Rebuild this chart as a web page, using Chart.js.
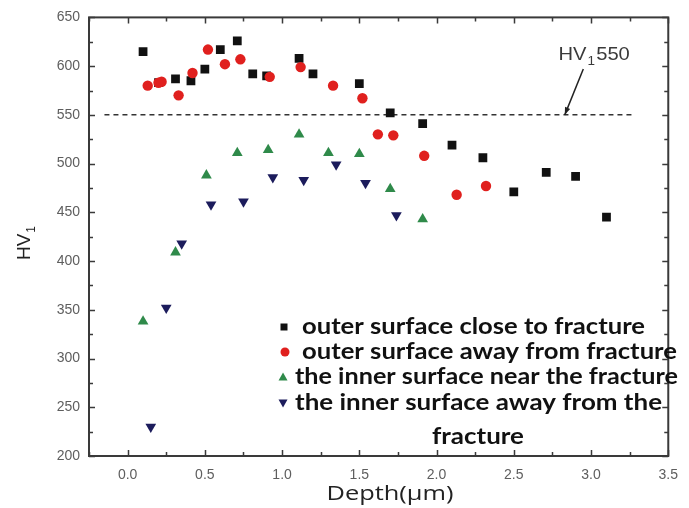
<!DOCTYPE html>
<html><head><meta charset="utf-8">
<script src="https://cdn.jsdelivr.net/npm/chart.js@4.4.1/dist/chart.umd.min.js"></script>
<style>html,body{margin:0;padding:0;background:#fff}</style>
</head><body>
<canvas id="c" width="689" height="508"></canvas>
<script>
// ---------- data ----------
const seriesLabels = [
  "outer surface close to fracture",
  "outer surface away from fracture",
  "the inner surface near the fracture",
  "the inner surface away from the\nfracture"
];
const closeX = [0.10, 0.20, 0.31, 0.41, 0.50, 0.60, 0.71, 0.81, 0.90, 1.11, 1.20, 1.50, 1.70, 1.91, 2.10, 2.30, 2.50, 2.71, 2.90, 3.10];
const closeY = [615, 583, 587, 585, 597, 617, 626, 592, 590, 608, 592, 582, 552, 541, 519, 506, 471, 491, 487, 445];
const awayX  = [0.13, 0.20, 0.22, 0.33, 0.42, 0.52, 0.63, 0.73, 0.92, 1.12, 1.33, 1.52, 1.62, 1.72, 1.92, 2.13, 2.32];
const awayY  = [580, 583, 584, 570, 593, 617, 602, 607, 589, 599, 580, 567, 530, 529, 508, 468, 477];
const innerNearX = [0.10, 0.31, 0.51, 0.71, 0.91, 1.11, 1.30, 1.50, 1.70, 1.91];
const innerNearY = [338, 409, 488, 511, 514, 530, 511, 510, 474, 443];
const innerAwayX = [0.15, 0.25, 0.35, 0.54, 0.75, 0.94, 1.14, 1.35, 1.54, 1.74];
const innerAwayY = [230, 352, 418, 458, 461, 486, 483, 499, 480, 447];
const thresholdX = [-0.15, 3.28];
const thresholdY = [550, 550];
const xTickValues = [0, 0.5, 1.0, 1.5, 2.0, 2.5, 3.0, 3.5];
const yTickValues = [200, 250, 300, 350, 400, 450, 500, 550, 600, 650];
const xRange = [-0.25, 3.5];
const yRange = [200, 650];
const annotationText = ["HV", "1", "550"];
const annotationPos = {textX: 3.02, textY: 611, tailX: 2.95, tailY: 597, tipX: 2.83, tipY: 550};
const xTitle = "Depth(\u03bcm)";
const yTitle = ["HV", "1"];

const pts = (xs, ys) => xs.map((x, i) => ({x: x, y: ys[i]}));

const colors = ['#111111', '#e0201e', '#2f8a4a', '#1c1c5c'];
const shapes = ['rect', 'circle', 'triangle', 'triangle'];
const rots = [0, 0, 0, 180];

const framePlugin = {
  id: 'frame',
  afterDatasetsDraw(chart) {
    const ctx = chart.ctx, a = chart.chartArea;
    const xs = chart.scales.x, ys = chart.scales.y;
    ctx.save();
    ctx.strokeStyle = '#3a3a3a';
    ctx.lineWidth = 2;
    ctx.strokeRect(a.left, a.top, a.right - a.left, a.bottom - a.top);
    ctx.lineWidth = 1.5;
    ctx.beginPath();
    for (let v = xRange[0]; v <= xRange[1] + 1e-9; v += 0.25) {
      const p = Math.round(xs.getPixelForValue(v)) + 0.5;
      const major = Math.abs(v * 2 - Math.round(v * 2)) < 1e-6;
      const L = major ? 6 : 4;
      ctx.moveTo(p, a.bottom); ctx.lineTo(p, a.bottom - L);
      ctx.moveTo(p, a.top); ctx.lineTo(p, a.top + L);
    }
    for (let v = yRange[0]; v <= yRange[1] + 1e-9; v += 25) {
      const p = Math.round(ys.getPixelForValue(v)) + 0.5;
      const major = v % 50 === 0;
      const L = major ? 6 : 4;
      ctx.moveTo(a.left, p); ctx.lineTo(a.left + L, p);
      ctx.moveTo(a.right, p); ctx.lineTo(a.right - L, p);
    }
    ctx.stroke();

    // annotation text + arrow
    ctx.fillStyle = '#3a3a3a';
    const big = '18px "Liberation Sans", Arial, sans-serif';
    const small = '12px "Liberation Sans", Arial, sans-serif';
    ctx.font = big;
    const w1 = ctx.measureText(annotationText[0]).width;
    ctx.font = small;
    const w2 = ctx.measureText(annotationText[1]).width;
    ctx.font = big;
    const w3 = ctx.measureText(annotationText[2]).width;
    const tw = w1 + w2 + w3 + 2;
    const tcx = xs.getPixelForValue(annotationPos.textX);
    const ty = ys.getPixelForValue(annotationPos.textY);
    ctx.save();
    ctx.translate(tcx, ty);
    ctx.scale(1.12, 1);
    ctx.textBaseline = 'middle';
    ctx.textAlign = 'left';
    const tx = -tw / 2;
    ctx.fillText(annotationText[0], tx, 0);
    ctx.font = small;
    ctx.fillText(annotationText[1], tx + w1 + 1, 6);
    ctx.font = big;
    ctx.fillText(annotationText[2], tx + w1 + w2 + 2, 0);
    ctx.restore();
    const x0 = xs.getPixelForValue(annotationPos.tailX), y0 = ys.getPixelForValue(annotationPos.tailY);
    const x1 = xs.getPixelForValue(annotationPos.tipX), y1 = ys.getPixelForValue(annotationPos.tipY);
    ctx.strokeStyle = '#222';
    ctx.lineWidth = 1.5;
    ctx.beginPath(); ctx.moveTo(x0, y0); ctx.lineTo(x1, y1); ctx.stroke();
    const ang = Math.atan2(y1 - y0, x1 - x0);
    ctx.fillStyle = '#222';
    ctx.beginPath();
    ctx.moveTo(x1, y1);
    ctx.lineTo(x1 - 8 * Math.cos(ang - 0.35), y1 - 8 * Math.sin(ang - 0.35));
    ctx.lineTo(x1 - 8 * Math.cos(ang + 0.35), y1 - 8 * Math.sin(ang + 0.35));
    ctx.closePath(); ctx.fill();

    // axis titles
    ctx.fillStyle = '#222';
    ctx.textAlign = 'center';
    ctx.textBaseline = 'middle';
    ctx.save();
    ctx.translate(390, 494);
    ctx.scale(1.27, 1);
    ctx.font = '20px "Open Sans", sans-serif';
    ctx.fillText(xTitle, 0, 0);
    ctx.restore();

    ctx.save();
    ctx.translate(25, 243);
    ctx.rotate(-Math.PI / 2);
    ctx.font = '19px "Liberation Sans", Arial, sans-serif';
    const hw = ctx.measureText(yTitle[0]).width;
    ctx.font = '12px "Liberation Sans", Arial, sans-serif';
    const sw = ctx.measureText(yTitle[1]).width;
    const start = -(hw + sw + 1) / 2;
    ctx.textAlign = 'left';
    ctx.font = '19px "Liberation Sans", Arial, sans-serif';
    ctx.fillText(yTitle[0], start, 0);
    ctx.font = '12px "Liberation Sans", Arial, sans-serif';
    ctx.fillText(yTitle[1], start + hw + 1, 7);
    ctx.restore();

    // legend
    const rowsY = [327, 352, 377, 403];
    const markerX = [284, 285, 283, 283];
    const textX = [302, 302, 295, 295];
    const rowEnds = [645, 677, 678, 662];
    ctx.textAlign = 'left';
    ctx.textBaseline = 'middle';
    seriesLabels.forEach((lab, i) => {
      const y = rowsY[i];
      const mx = markerX[i];
      ctx.fillStyle = colors[i];
      ctx.beginPath();
      if (shapes[i] === 'rect') { ctx.rect(mx - 3.5, y - 3.5, 7, 7); }
      else if (shapes[i] === 'circle') { ctx.arc(mx, y, 4.5, 0, Math.PI * 2); }
      else if (rots[i] === 0) { ctx.moveTo(mx, y - 4.5); ctx.lineTo(mx + 4.5, y + 3.5); ctx.lineTo(mx - 4.5, y + 3.5); ctx.closePath(); }
      else { ctx.moveTo(mx, y + 4.5); ctx.lineTo(mx + 4.5, y - 3.5); ctx.lineTo(mx - 4.5, y - 3.5); ctx.closePath(); }
      ctx.fill();
      ctx.fillStyle = '#111';
      const parts = lab.split('\n');
      ctx.font = 'bold 22px Lato, sans-serif';
      const meas = ctx.measureText(parts[0]).width;
      const sx = (rowEnds[i] - textX[i]) / meas;
      ctx.save();
      ctx.translate(textX[i], y);
      ctx.scale(sx, 1);
      ctx.textAlign = 'left';
      ctx.fillText(parts[0], 0, 0);
      ctx.restore();
      if (parts[1]) {
        ctx.save();
        ctx.translate(478, 437);
        ctx.scale(sx, 1);
        ctx.textAlign = 'center';
        ctx.fillText(parts[1], 0, 0);
        ctx.restore();
      }
    });
    ctx.restore();
  }
};

const mk = (i, xs, ys, r) => ({
  type: 'scatter',
  label: seriesLabels[i],
  data: pts(xs, ys),
  pointStyle: shapes[i],
  rotation: rots[i],
  pointRadius: r,
  pointBackgroundColor: colors[i],
  pointBorderColor: colors[i],
  pointBorderWidth: 0,
  showLine: false,
  order: 4 - i
});

new Chart(document.getElementById('c'), {
  type: 'scatter',
  data: {
    datasets: [
      mk(0, closeX, closeY, 6.2),
      mk(1, awayX, awayY, 5.2),
      mk(2, innerNearX, innerNearY, 6.2),
      mk(3, innerAwayX, innerAwayY, 6.2),
      {
        type: 'line', label: 'HV1 550', data: pts(thresholdX, thresholdY),
        borderColor: '#333', borderWidth: 1.5, borderDash: [5, 4],
        pointRadius: 0, fill: false, order: 10
      }
    ]
  },
  options: {
    responsive: false,
    animation: false,
    devicePixelRatio: 1,
    layout: {padding: {top: 15, right: 11, left: 0, bottom: 0}},
    plugins: {legend: {display: false}, tooltip: {enabled: false}},
    scales: {
      x: {
        type: 'linear', min: xRange[0], max: xRange[1],
        grid: {display: false, drawTicks: false},
        border: {display: false},
        afterBuildTicks: s => { s.ticks = xTickValues.map(v => ({value: v})); },
        afterFit: s => { s.height = 52; },
        ticks: {padding: 11, color: '#5e5e5e', maxRotation: 0, autoSkip: false,
          font: {size: 14, family: '"Liberation Sans", Arial, sans-serif'},
          callback: v => Number(v).toFixed(1)}
      },
      y: {
        type: 'linear', min: yRange[0], max: yRange[1],
        grid: {display: false, drawTicks: false},
        border: {display: false},
        afterBuildTicks: s => { s.ticks = yTickValues.map(v => ({value: v})); },
        afterFit: s => { s.width = 89; },
        ticks: {padding: 9, color: '#5e5e5e', autoSkip: false,
          font: {size: 14, family: '"Liberation Sans", Arial, sans-serif'}}
      }
    }
  },
  plugins: [framePlugin]
});
</script>
</body></html>
